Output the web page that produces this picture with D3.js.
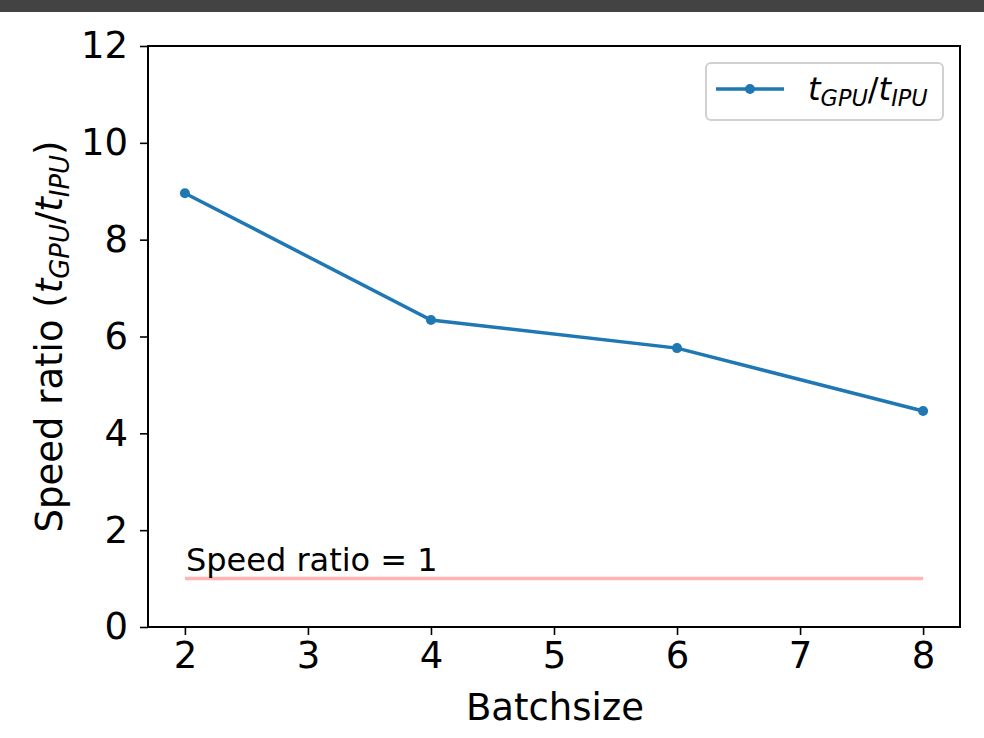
<!DOCTYPE html>
<html>
<head>
<meta charset="utf-8">
<script src="https://cdn.jsdelivr.net/npm/d3@7"></script>
<style>
  body { margin: 0; background: #fff; }
  svg text { font-family: "DejaVu Sans", sans-serif; fill: #000; }
</style>
</head>
<body>
<div id="chart"></div>
<script>
// data
const batchSizes = [2, 4, 6, 8];
const speedRatios = [8.96, 6.34, 5.76, 4.46];
const xTicks = [2, 3, 4, 5, 6, 7, 8];
const yTicks = [0, 2, 4, 6, 8, 10, 12];
const refRatio = 1;

const W = 984, H = 738;
const margin = { top: 46, right: 24, bottom: 111, left: 148 };
const width = W - margin.left - margin.right;
const height = H - margin.top - margin.bottom;

const svg = d3.select("#chart").append("svg")
  .attr("width", W).attr("height", H);

// dark strip at the top
svg.append("rect").attr("x", 0).attr("y", 0).attr("width", W).attr("height", 12)
  .attr("fill", "#434343");

const g = svg.append("g").attr("transform", `translate(${margin.left},${margin.top})`);

const x = d3.scaleLinear().domain([1.7, 8.3]).range([0, width]);
const y = d3.scaleLinear().domain([0, 12]).range([height, 0]);

// axes
const xAxis = g.append("g").attr("transform", `translate(0,${height})`)
  .call(d3.axisBottom(x).tickValues(xTicks).tickSize(8).tickPadding(7).tickFormat(d3.format("d")));
const yAxis = g.append("g")
  .call(d3.axisLeft(y).tickValues(yTicks).tickSize(8).tickPadding(12).tickFormat(d3.format("d")));

[xAxis, yAxis].forEach(a => {
  a.select(".domain").remove();
  a.selectAll("line").attr("stroke", "#000").attr("stroke-width", 1.6);
  a.selectAll("text").style("font-size", "37px").attr("fill", "#000");
});

// frame
g.append("rect").attr("width", width).attr("height", height)
  .attr("fill", "none").attr("stroke", "#000").attr("stroke-width", 2);

// reference line
g.append("line")
  .attr("x1", x(batchSizes[0])).attr("x2", x(batchSizes[batchSizes.length - 1]))
  .attr("y1", y(refRatio)).attr("y2", y(refRatio))
  .attr("stroke", "#ffb3b3").attr("stroke-width", 3.5);

g.append("text")
  .attr("x", x(batchSizes[0]) + 1).attr("y", y(refRatio) - 8)
  .style("font-size", "32px")
  .text("Speed ratio = 1");

// data line
const pts = batchSizes.map((b, i) => [b, speedRatios[i]]);
g.append("path").datum(pts)
  .attr("fill", "none").attr("stroke", "#1f77b4").attr("stroke-width", 3.5)
  .attr("d", d3.line().x(d => x(d[0])).y(d => y(d[1])));

g.selectAll(".dot").data(pts).enter().append("circle")
  .attr("class", "dot")
  .attr("cx", d => x(d[0])).attr("cy", d => y(d[1])).attr("r", 5)
  .attr("fill", "#1f77b4");

// axis labels
svg.append("text")
  .attr("x", margin.left + width / 2 + 1).attr("y", H - 18)
  .attr("text-anchor", "middle").style("font-size", "37px")
  .text("Batchsize");

function mathLabel(sel, size) {
  sel.append("tspan").style("font-style", "italic").text("t");
  sel.append("tspan").style("font-style", "italic").style("font-size", (size * 0.7) + "px")
    .attr("dy", size * 0.2).text("GPU");
  sel.append("tspan").attr("dy", -size * 0.2).text("/");
  sel.append("tspan").style("font-style", "italic").text("t");
  sel.append("tspan").style("font-style", "italic").style("font-size", (size * 0.7) + "px")
    .attr("dy", size * 0.2).text("IPU");
  return sel;
}

const yl = svg.append("text")
  .attr("transform", `translate(62,${margin.top + height / 2}) rotate(-90)`)
  .attr("text-anchor", "middle").style("font-size", "37px");
yl.append("tspan").text("Speed ratio (");
mathLabel(yl, 37);
yl.append("tspan").attr("dy", -37 * 0.2).text(")");

// legend
const lg = g.append("g").attr("transform", `translate(${width - 254},17)`);
lg.append("rect").attr("width", 237).attr("height", 57).attr("rx", 5)
  .attr("fill", "#fff").attr("stroke", "#d0d0d0").attr("stroke-width", 2);
lg.append("line").attr("x1", 10).attr("x2", 78).attr("y1", 26).attr("y2", 26)
  .attr("stroke", "#1f77b4").attr("stroke-width", 3.5);
lg.append("circle").attr("cx", 44).attr("cy", 26).attr("r", 5).attr("fill", "#1f77b4");
const lt = lg.append("text").attr("x", 102).attr("y", 37).style("font-size", "32px");
mathLabel(lt, 32);
</script>
</body>
</html>
